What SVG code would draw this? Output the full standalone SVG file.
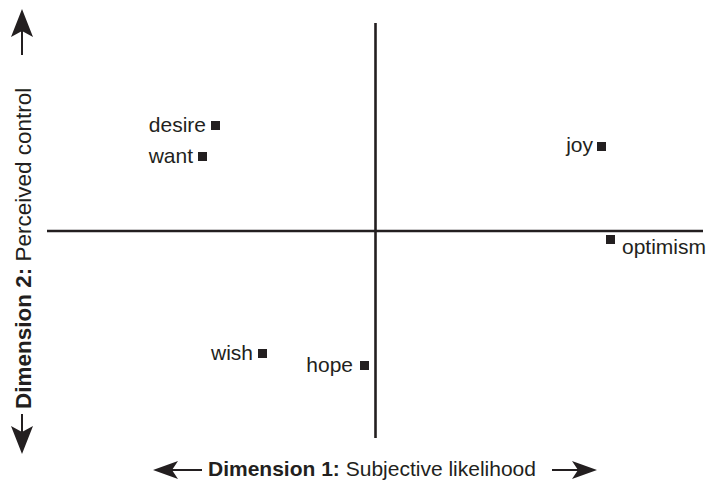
<svg xmlns="http://www.w3.org/2000/svg" width="707" height="481" viewBox="0 0 707 481">
<style>
text{font-family:"Liberation Sans",Arial,sans-serif;font-size:21px;fill:#231f20}
.b{font-weight:bold}
.ax{stroke:#231f20;stroke-width:2.6;fill:none}
.ar{stroke:#231f20;stroke-width:2;fill:none}
.hd{fill:#231f20}
.pt{fill:#231f20}
</style>
<rect width="707" height="481" fill="#fff"/>
<g id="connectors">
<line class="ax" x1="375.5" y1="23" x2="375.5" y2="438"/>
<line class="ax" x1="47" y1="231" x2="703" y2="231"/>
<line class="ar" x1="22" y1="30" x2="22" y2="55"/>
<polygon class="hd" points="22,9 11,37 22,31 33,37"/>
<line class="ar" x1="22" y1="414" x2="22" y2="433"/>
<polygon class="hd" points="22,454 11,426 22,432 33,426"/>
<line class="ar" x1="172" y1="470" x2="202" y2="470"/>
<polygon class="hd" points="153,470 178,461 172,470 178,479"/>
<line class="ar" x1="552" y1="470" x2="580" y2="470"/>
<polygon class="hd" points="597,470 572,461 578,470 572,479"/>
</g>
<g id="axis-x-label"><text x="208" y="476"><tspan class="b">Dimension 1:</tspan> Subjective likelihood</text></g>
<g id="axis-y-label"><text style="font-size:22.5px" transform="translate(31,409) rotate(-90)"><tspan class="b">Dimension 2:</tspan> Perceived control</text></g>
<g id="desire"><text x="206" y="132" text-anchor="end">desire</text><rect class="pt" x="211" y="121" width="9" height="9"/></g>
<g id="want"><text x="193" y="163" text-anchor="end">want</text><rect class="pt" x="198" y="152" width="9" height="9"/></g>
<g id="joy"><text x="593" y="152" text-anchor="end">joy</text><rect class="pt" x="597" y="142" width="9" height="9"/></g>
<g id="optimism"><rect class="pt" x="606" y="235" width="9" height="9"/><text x="622" y="254">optimism</text></g>
<g id="wish"><text x="253" y="360" text-anchor="end">wish</text><rect class="pt" x="258" y="349" width="9" height="9"/></g>
<g id="hope"><text x="353" y="372" text-anchor="end">hope</text><rect class="pt" x="360" y="361" width="9" height="9"/></g>
</svg>
